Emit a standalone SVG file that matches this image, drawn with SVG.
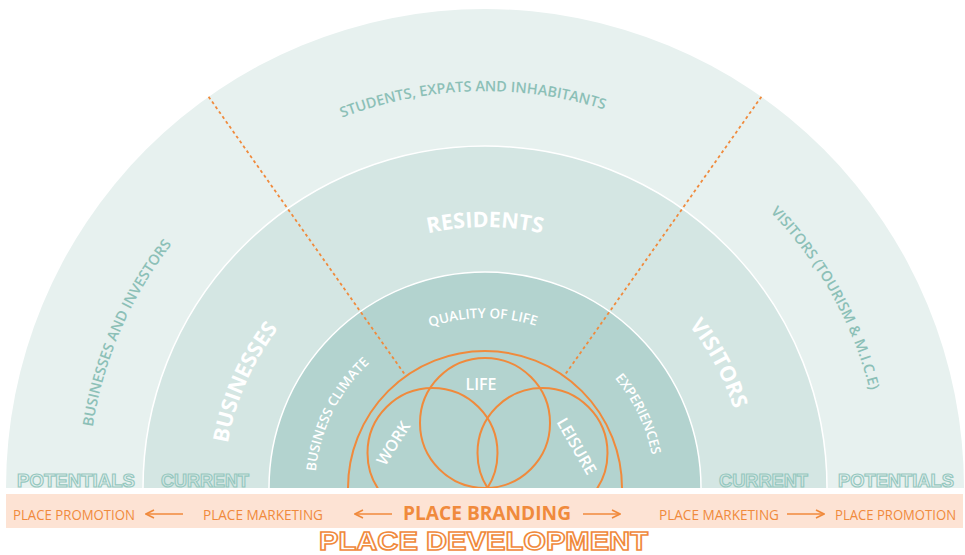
<svg xmlns="http://www.w3.org/2000/svg" width="965" height="555" viewBox="0 0 965 555">
<style>
.ring-w{stroke:#ffffff;stroke-width:1.5}
.t-outer{font-family:"Open Sans","Liberation Sans",sans-serif;font-weight:600;font-size:14.5px;fill:#8cc0b7}
.t-mid{font-family:"Open Sans","Liberation Sans",sans-serif;font-weight:700;font-size:21.5px;fill:#ffffff}
.t-in{font-family:"Open Sans","Liberation Sans",sans-serif;font-weight:600;font-size:13.5px;fill:#ffffff}
.t-venn{font-family:"Open Sans","Liberation Sans",sans-serif;font-weight:600;font-size:16px;fill:#ffffff}
.t-out{font-family:"Liberation Sans",Arial,sans-serif;font-weight:700;font-size:19px;fill:none;stroke:#96c8bf;stroke-width:1.2}
.t-band{font-family:"Open Sans","Liberation Sans",sans-serif;font-weight:400;font-size:14px;fill:#f08a3c}
.t-brand{font-family:"Open Sans","Liberation Sans",sans-serif;font-weight:700;font-size:19px;fill:#f08a3c}
.t-dev{font-family:"Liberation Sans",Arial,sans-serif;font-weight:700;font-size:25px;fill:#ffffff;stroke:#f08a3c;stroke-width:1.5}
.venn{fill:none;stroke:#f08a3c;stroke-width:2}
.dash{stroke:#f08a3c;stroke-width:1.8;stroke-dasharray:3 3;fill:none}
.arr{stroke:#f08a3c;stroke-width:1.6;fill:none}
</style>
<defs>
<clipPath id="half"><rect x="0" y="0" width="965" height="488"/></clipPath>
<path id="arcO" d="M88 488 A397 397 0 0 1 882 488"/>
<path id="arcM" d="M224 488 A261 261 0 0 1 746 488"/>
<path id="arcI" d="M315 488 A170 170 0 0 1 655 488"/>
<marker id="head" viewBox="0 0 10 10" refX="9" refY="5" markerWidth="10" markerHeight="10" markerUnits="userSpaceOnUse" orient="auto">
<path d="M1 1 L9 5 L1 9" fill="none" stroke="#f08a3c" stroke-width="1.6"/>
</marker>
</defs>
<rect width="965" height="555" fill="#ffffff"/>
<g clip-path="url(#half)">
<g id="outer-ring">
<circle cx="485" cy="488" r="479" fill="#e7f1ef"/>
<text class="t-outer"><textPath href="#arcO" startOffset="49%" text-anchor="middle">STUDENTS, EXPATS AND INHABITANTS</textPath></text>
<text class="t-outer"><textPath href="#arcO" startOffset="13%" text-anchor="middle">BUSINESSES AND INVESTORS</textPath></text>
<text class="t-outer"><textPath href="#arcO" startOffset="83.8%" text-anchor="middle">VISITORS (TOURISM &amp; M.I.C.E)</textPath></text>
</g>
<g id="middle-ring">
<circle cx="485" cy="488" r="342" fill="#d4e6e3" class="ring-w"/>
<text class="t-mid"><textPath href="#arcM" startOffset="50%" text-anchor="middle">RESIDENTS</textPath></text>
<text class="t-mid"><textPath href="#arcM" startOffset="13.2%" text-anchor="middle">BUSINESSES</textPath></text>
<text class="t-mid"><textPath href="#arcM" startOffset="84.4%" text-anchor="middle">VISITORS</textPath></text>
</g>
<g id="inner-ring">
<circle cx="485" cy="488" r="216" fill="#b3d3cf" class="ring-w"/>
<text class="t-in"><textPath href="#arcI" startOffset="49.6%" text-anchor="middle">QUALITY OF LIFE</textPath></text>
<text class="t-in"><textPath href="#arcI" startOffset="14.7%" text-anchor="middle">BUSINESS CLIMATE</textPath></text>
<text class="t-in"><textPath href="#arcI" startOffset="85.7%" text-anchor="middle">EXPERIENCES</textPath></text>
</g>
<g id="core">
<circle cx="485" cy="488" r="137" fill="#8fbfb8" class="venn"/>
</g>
<g id="life">
<circle cx="485" cy="423" r="65" class="venn"/>
<text class="t-venn" x="481" y="390" text-anchor="middle">LIFE</text>
</g>
<g id="work">
<circle cx="432.5" cy="453" r="65" class="venn"/>
<text class="t-venn" transform="translate(393 443) rotate(-58)" x="0" y="6" text-anchor="middle">WORK</text>
</g>
<g id="leisure">
<circle cx="542.5" cy="453" r="65" class="venn"/>
<text class="t-venn" transform="translate(577 446) rotate(60)" x="0" y="6" text-anchor="middle">LEISURE</text>
</g>
</g>
<g id="connectors">
<line class="dash" x1="208.6" y1="96.7" x2="405.4" y2="375.3"/>
<line class="dash" x1="761.4" y1="96.7" x2="564.6" y2="375.3"/>
</g>
<g id="labels-bottom">
<text class="t-out" x="17" y="487" textLength="118" lengthAdjust="spacingAndGlyphs">POTENTIALS</text>
<text class="t-out" x="161" y="487" textLength="88" lengthAdjust="spacingAndGlyphs">CURRENT</text>
<text class="t-out" x="719" y="487" textLength="89" lengthAdjust="spacingAndGlyphs">CURRENT</text>
<text class="t-out" x="838" y="487" textLength="116" lengthAdjust="spacingAndGlyphs">POTENTIALS</text>
</g>
<g id="band">
<rect x="6" y="494" width="957" height="34" fill="#fde3d4"/>
<text class="t-band" x="13" y="520" textLength="122" lengthAdjust="spacingAndGlyphs">PLACE PROMOTION</text>
<text class="t-band" x="203" y="520" textLength="120" lengthAdjust="spacingAndGlyphs">PLACE MARKETING</text>
<text class="t-brand" x="403" y="520" textLength="168" lengthAdjust="spacingAndGlyphs">PLACE BRANDING</text>
<text class="t-band" x="659" y="520" textLength="120" lengthAdjust="spacingAndGlyphs">PLACE MARKETING</text>
<text class="t-band" x="835" y="520" textLength="121" lengthAdjust="spacingAndGlyphs">PLACE PROMOTION</text>
<line class="arr" x1="183" y1="514" x2="146" y2="514" marker-end="url(#head)"/>
<line class="arr" x1="392" y1="514" x2="355" y2="514" marker-end="url(#head)"/>
<line class="arr" x1="583" y1="514" x2="620" y2="514" marker-end="url(#head)"/>
<line class="arr" x1="787" y1="514" x2="824" y2="514" marker-end="url(#head)"/>
</g>
<g id="place-development">
<text class="t-dev" x="319" y="549.5" textLength="329" lengthAdjust="spacingAndGlyphs">PLACE DEVELOPMENT</text>
</g>
</svg>
